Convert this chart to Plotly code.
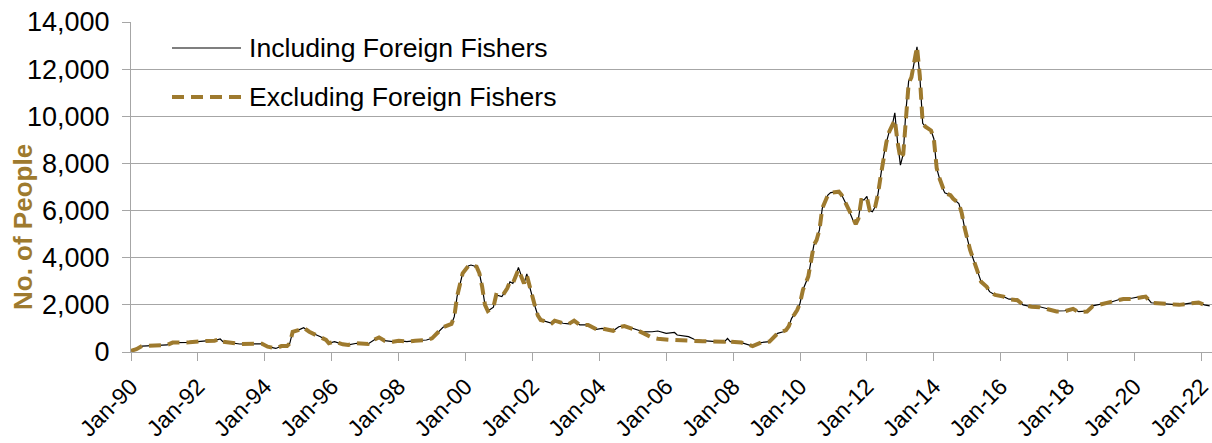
import plotly.graph_objects as go

# ---- data ----
dates = [
    "1990-01-01", "1990-03-01", "1990-05-01", "1990-10-01", "1991-02-01", "1991-04-01", "1991-10-01",
    "1992-04-01", "1992-07-01", "1992-09-01", "1992-10-01", "1993-04-01", "1993-10-01", "1993-12-01",
    "1994-02-01", "1994-05-01", "1994-07-01", "1994-09-01", "1994-10-01", "1994-11-01", "1995-01-01",
    "1995-03-01", "1995-05-01", "1995-09-01", "1995-11-01", "1995-12-01", "1996-02-01", "1996-05-01",
    "1996-07-01", "1996-10-01", "1997-02-01", "1997-04-01", "1997-06-01", "1997-08-01", "1997-11-01",
    "1998-01-01", "1998-04-01", "1998-07-01", "1998-11-01", "1999-01-01", "1999-03-01", "1999-05-01",
    "1999-08-01", "1999-09-01", "1999-10-01", "1999-11-01", "1999-12-01", "2000-02-01", "2000-03-01",
    "2000-05-01", "2000-06-01", "2000-07-01", "2000-08-01", "2000-09-01", "2000-11-01", "2000-12-01",
    "2001-02-01", "2001-04-01", "2001-05-01", "2001-06-01", "2001-07-01", "2001-08-01", "2001-09-01",
    "2001-10-01", "2001-11-01", "2001-12-01", "2002-02-01", "2002-03-01", "2002-04-01", "2002-06-01",
    "2002-08-01", "2002-09-01", "2002-12-01", "2003-02-01", "2003-04-01", "2003-06-01", "2003-09-01",
    "2003-12-01", "2004-02-01", "2004-06-01", "2004-08-01", "2004-10-01", "2005-01-01", "2005-03-01",
    "2005-05-01", "2005-08-01", "2005-10-01", "2006-01-01", "2006-03-01", "2006-04-01", "2006-05-01",
    "2006-09-01", "2006-11-01", "2007-02-01", "2007-07-01", "2007-10-01", "2007-11-01", "2007-12-01",
    "2008-04-01", "2008-08-01", "2008-11-01", "2009-02-01", "2009-05-01", "2009-07-01", "2009-08-01",
    "2009-09-01", "2009-10-01", "2009-11-01", "2009-12-01", "2010-01-01", "2010-02-01", "2010-04-01",
    "2010-05-01", "2010-06-01", "2010-07-01", "2010-08-01", "2010-09-01", "2010-11-01", "2010-12-01",
    "2011-03-01", "2011-04-01", "2011-06-01", "2011-08-01", "2011-09-01", "2011-10-01", "2011-11-01",
    "2011-12-01", "2012-01-01", "2012-02-01", "2012-03-01", "2012-04-01", "2012-05-01", "2012-06-01",
    "2012-07-01", "2012-08-01", "2012-09-01", "2012-10-01", "2012-11-01", "2012-12-01", "2013-01-01",
    "2013-02-01", "2013-03-01", "2013-04-01", "2013-05-01", "2013-06-01", "2013-07-01", "2013-08-01",
    "2013-09-01", "2013-10-01", "2013-11-01", "2013-12-01", "2014-01-01", "2014-02-01", "2014-03-01",
    "2014-04-01", "2014-05-01", "2014-06-01", "2014-07-01", "2014-08-01", "2014-09-01", "2014-10-01",
    "2014-11-01", "2014-12-01", "2015-02-01", "2015-04-01", "2015-06-01", "2015-08-01", "2015-09-01",
    "2015-11-01", "2016-02-01", "2016-04-01", "2016-07-01", "2016-09-01", "2016-12-01", "2017-03-01",
    "2017-05-01", "2017-09-01", "2017-12-01", "2018-03-01", "2018-05-01", "2018-08-01", "2018-10-01",
    "2019-01-01", "2019-05-01", "2019-09-01", "2019-12-01", "2020-03-01", "2020-05-01", "2020-07-01",
    "2020-10-01", "2021-01-01", "2021-05-01", "2021-09-01", "2021-12-01", "2022-02-01", "2022-04-01",
]

including = [
    50, 120, 250, 260, 300, 400, 410,
    470, 480, 550, 440, 340, 330, 350,
    225, 150, 250, 250, 370, 860, 930,
    1030, 860, 650, 510, 370, 440, 325,
    300, 370, 340, 510, 650, 480, 440,
    480, 440, 480, 510, 580, 790, 1050,
    1190, 1500, 2350, 2910, 3340, 3650, 3690,
    3620, 3340, 2770, 2000, 1740, 1900, 2420,
    2350, 2700, 2980, 2910, 3200, 3590, 3200,
    2910, 3310, 2770, 1900, 1550, 1360, 1290,
    1220, 1360, 1220, 1190, 1360, 1150, 1150,
    960, 1000, 900, 1070, 1120, 1000, 900,
    850, 860, 890, 790, 830, 830, 720,
    650, 540, 480, 440, 440, 580, 440,
    400, 250, 400, 440, 790, 860, 930,
    1100, 1430, 1600, 1780, 2070, 2630, 3200,
    3900, 4540, 4750, 5180, 6100, 6660, 6760,
    6800, 6660, 6170, 5600, 5430, 5670, 6450,
    6450, 6600, 6000, 5950, 6170, 6700, 7500,
    8300, 8900, 9350, 9560, 10150, 8900, 7930,
    8400, 10200, 11500, 11650, 12300, 12950, 11700,
    9700, 9560, 9460, 9400, 9050, 7800, 7400,
    7000, 6750, 6700, 6650, 6500, 6400, 6300,
    5900, 5300, 4330, 3620, 2980, 2770, 2560,
    2420, 2350, 2240, 2240, 2000, 1920, 1920,
    1850, 1740, 1750, 1850, 1710, 1740, 1960,
    2040, 2130, 2280, 2280, 2350, 2380, 2090,
    2070, 2040, 2000, 2070, 2110, 2000, 1960,
]

excluding = [
    50, 120, 250, 260, 300, 400, 410,
    470, 480, 550, 440, 340, 330, 350,
    225, 150, 250, 250, 370, 860, 930,
    1030, 860, 650, 510, 370, 440, 325,
    300, 370, 340, 510, 620, 480, 440,
    480, 440, 480, 510, 580, 790, 1050,
    1190, 1500, 2350, 2910, 3340, 3650, 3690,
    3620, 3340, 2770, 2000, 1740, 1900, 2420,
    2350, 2700, 2980, 2910, 3200, 3500, 3200,
    2910, 3250, 2770, 1900, 1550, 1360, 1290,
    1220, 1330, 1220, 1190, 1330, 1150, 1150,
    960, 1000, 900, 1050, 1100, 1000, 900,
    790, 610, 560, 510, 510, 510, 510,
    480, 470, 460, 440, 440, 520, 440,
    400, 250, 400, 440, 790, 860, 930,
    1100, 1430, 1600, 1780, 2070, 2630, 3200,
    3900, 4540, 4750, 5180, 6100, 6660, 6760,
    6800, 6660, 6170, 5600, 5430, 5670, 6450,
    6450, 6550, 6000, 5950, 6170, 6700, 7500,
    8300, 8900, 9350, 9560, 9850, 8900, 8200,
    8400, 10000, 11400, 11650, 12300, 12950, 11700,
    9700, 9560, 9460, 9400, 9050, 7800, 7400,
    7000, 6750, 6700, 6650, 6500, 6400, 6300,
    5900, 5300, 4330, 3620, 2980, 2770, 2560,
    2420, 2350, 2240, 2200, 2000, 1920, 1900,
    1850, 1720, 1730, 1830, 1700, 1720, 1940,
    2020, 2110, 2250, 2250, 2330, 2350, 2090,
    2070, 2040, 2000, 2060, 2100, 2000, 1960,
]

series_names = ["Including Foreign Fishers", "Excluding Foreign Fishers"]
y_title = "No. of People"

GOLD = "#9E7A2E"
GRID = "#A6A6A6"
FONT = "Liberation Sans, Arial, sans-serif"
DASH = "12px,7px"

fig = go.Figure()
fig.add_trace(go.Scatter(x=dates, y=including, mode="lines", name=series_names[0],
                         line=dict(color="black", width=1.2), showlegend=False))
fig.add_trace(go.Scatter(x=dates, y=excluding, mode="lines", name=series_names[1],
                         line=dict(color=GOLD, width=4, dash=DASH), showlegend=False))

fig.update_layout(
    width=1212, height=443,
    margin=dict(l=131, r=0, t=22, b=91),
    paper_bgcolor="white", plot_bgcolor="white",
    font=dict(family=FONT, size=27, color="black"),
    showlegend=False,
)
fig.update_xaxes(
    type="date", range=["1990-01-01", "2022-04-26"],
    tick0="1990-01-01", dtick="M24", tickformat="%b-%y", tickangle=-45,
    tickfont=dict(size=23),
    ticks="outside", ticklen=8, tickcolor=GRID,
    showline=True, linecolor=GRID, linewidth=1,
    showgrid=False, zeroline=False, automargin=False,
    ticklabeloverflow="allow", ticklabelstandoff=3,
)
fig.update_yaxes(
    range=[0, 14000], dtick=2000, tickformat=",",
    ticks="outside", ticklen=8, tickcolor=GRID,
    showline=True, linecolor=GRID, linewidth=1,
    showgrid=True, gridcolor=GRID, gridwidth=1,
    zeroline=False, automargin=False, ticklabelstandoff=7,
)

# legend drawn inside the plot (long line samples as in the original)
W = 1081.0
H = 330.0
def px_x(p):
    return (p - 131) / W
def px_y(p):
    return (352 - p) / H

legend_rows = [(48, dict(color="black", width=1.2)), (97, dict(color=GOLD, width=4, dash=DASH))]
for (ypix, ln), name in zip(legend_rows, series_names):
    fig.add_shape(type="line", xref="paper", yref="paper",
                  x0=px_x(172), x1=px_x(241), y0=px_y(ypix), y1=px_y(ypix), line=ln)
    fig.add_annotation(xref="paper", yref="paper", x=px_x(247), y=px_y(ypix),
                       text=name, showarrow=False, xanchor="left", yanchor="middle",
                       font=dict(family=FONT, size=26.6, color="black"))

fig.add_annotation(xref="paper", yref="paper", x=px_x(23), y=px_y(227),
                   text="<b>" + y_title + "</b>", showarrow=False, textangle=-90,
                   xanchor="center", yanchor="middle",
                   font=dict(family=FONT, size=26, color=GOLD))

fig.write_html("out.html", config={"displayModeBar": False},
               post_script="document.body.style.margin='0';document.body.style.overflow='hidden';")
